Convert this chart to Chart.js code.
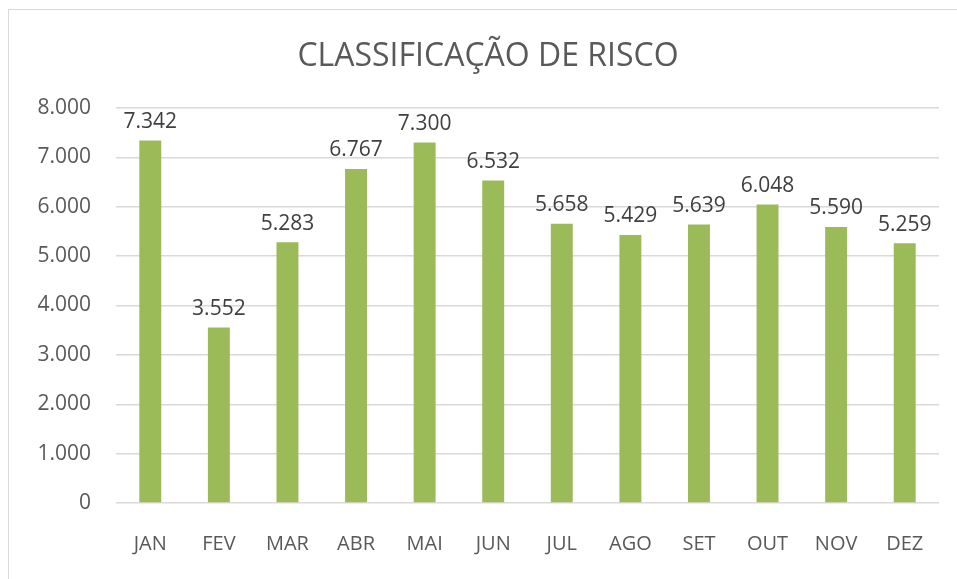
<!DOCTYPE html>
<html>
<head>
<meta charset="utf-8">
<script src="https://cdn.jsdelivr.net/npm/chart.js@4.4.0/dist/chart.umd.min.js"></script>
<style>
  body { margin: 0; background: #fff; overflow: hidden; }
  #wrap { position: absolute; left: 8px; top: 9px; width: 958px; height: 580px; border: 1px solid #d9d9d9; }
</style>
</head>
<body>
<div id="wrap"><canvas id="myChart" width="958" height="562"></canvas></div>
<script>
// Chart data
const months = ["JAN", "FEV", "MAR", "ABR", "MAI", "JUN", "JUL", "AGO", "SET", "OUT", "NOV", "DEZ"];
const riskValues = [7342, 3552, 5283, 6767, 7300, 6532, 5658, 5429, 5639, 6048, 5590, 5259];
const yTicks = [0, 1000, 2000, 3000, 4000, 5000, 6000, 7000, 8000];

const fontFamily = "'Open Sans', sans-serif";

// Formats 7342 as "7.342"
function fmt(n) {
  return String(n).replace(/\B(?=(\d{3})+(?!\d))/g, ".");
}

// Draws the value above each bar
const valueLabels = {
  id: 'valueLabels',
  afterDatasetsDraw(chart) {
    const ctx = chart.ctx;
    const meta = chart.getDatasetMeta(0);
    ctx.save();
    ctx.font = "21px " + fontFamily;
    ctx.fillStyle = "#404040";
    ctx.textAlign = "center";
    ctx.textBaseline = "bottom";
    meta.data.forEach((bar, i) => {
      ctx.fillText(fmt(riskValues[i]), bar.x, bar.y - 8);
    });
    ctx.restore();
  }
};

const myChart = document.getElementById("myChart");

let barChart = new Chart(myChart, {
  type: 'bar',
  data: {
    labels: months,
    datasets: [{
      label: 'Classificação de risco',
      data: riskValues,
      backgroundColor: '#9BBB59',
      borderWidth: 0,
      categoryPercentage: 1,
      barPercentage: 0.32
    }]
  },
  options: {
    responsive: false,
    animation: false,
    layout: { padding: 0 },
    plugins: {
      legend: { display: false },
      tooltip: { enabled: false },
      title: {
        display: true,
        text: 'CLASSIFICAÇÃO DE RISCO',
        color: '#595959',
        font: { family: fontFamily, size: 32, weight: 'normal' },
        padding: { top: 28, bottom: 31.6 }
      }
    },
    scales: {
      x: {
        grid: { display: false, drawTicks: false },
        border: { display: false },
        ticks: { color: '#595959', font: { family: fontFamily, size: 20 }, padding: 29 },
        afterFit(scale) { scale.height = 69; }
      },
      y: {
        min: 0,
        max: 8000,
        afterBuildTicks(scale) { scale.ticks = yTicks.map(v => ({ value: v })); },
        grid: { color: '#d9d9d9', lineWidth: 1.5, drawTicks: false },
        border: { display: false },
        ticks: {
          color: '#595959',
          font: { family: fontFamily, size: 21 },
          padding: 25,
          callback: v => fmt(v)
        },
        afterFit(scale) { scale.width = 107; }
      },
      // empty right axis, only keeps space between the plot and the right edge
      yRight: {
        position: 'right',
        min: 0,
        max: 8000,
        grid: { display: false, drawTicks: false },
        border: { display: false },
        ticks: { display: false },
        afterFit(scale) { scale.width = 28; }
      }
    }
  },
  plugins: [valueLabels]
});
</script>
</body>
</html>
